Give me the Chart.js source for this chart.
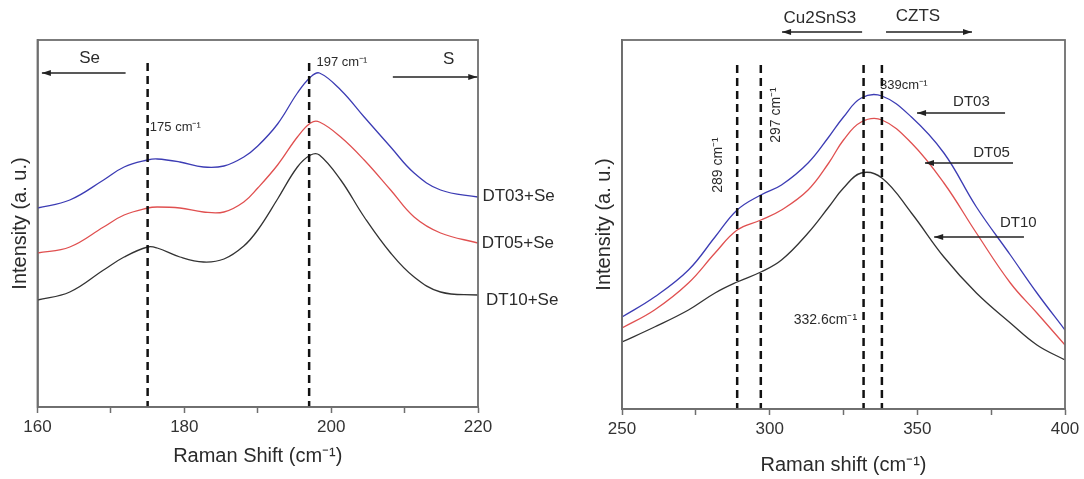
<!DOCTYPE html>
<html>
<head>
<meta charset="utf-8">
<script src="https://cdn.jsdelivr.net/npm/chart.js@4.4.1/dist/chart.umd.min.js"></script>
<style>
  html, body { margin: 0; padding: 0; background: #fff; }
  #wrap { position: relative; width: 1084px; height: 479px; }
  #left { position: absolute; left: 0; top: 0; }
  #right { position: absolute; left: 580px; top: 0; }
</style>
</head>
<body>
<div id="wrap">
  <canvas id="left" width="580" height="479"></canvas>
  <canvas id="right" width="504" height="479"></canvas>
</div>
<script>
// Left panel: Se treated films (Raman shift, cm-1)
const leftShift = [160, 164.4, 169, 171.8, 175, 176.3, 179.4, 182.6, 185.4, 188.1, 190, 192.7, 195.4, 197.2, 198.4, 201.3, 204.5, 208.1, 211.3, 214.9, 220];
const dt03Se = [199, 207, 227, 240, 247, 248, 245, 240, 241, 250, 261, 283, 314, 330, 334, 317, 290, 260, 234, 217, 210];
const dt05Se = [154, 160, 180, 192, 199, 200, 199, 195, 195, 205, 219, 242, 270, 284, 285, 270, 247, 217, 190, 174, 164];
const dt10Se = [107, 115, 137, 150, 160, 159, 150, 145, 148, 161, 177, 208, 240, 252, 252, 227, 190, 154, 130, 115, 112];
const leftPeaks = [175, 197];

// Right panel: as grown films
const rightShift = [250, 261, 272.5, 281.5, 289, 297, 304, 313, 320, 325, 331, 338, 348, 359, 370, 381.5, 390.5, 400];
const dt03 = [92, 112, 139, 172, 199, 214, 224, 246, 272, 292, 311, 313, 292, 256, 202, 154, 116, 79];
const dt05 = [81, 99, 126, 156, 179, 189, 199, 219, 246, 269, 287, 289, 266, 226, 176, 126, 96, 64];
const dt10 = [67, 82, 99, 116, 127, 137, 149, 176, 202, 221, 236, 231, 196, 152, 116, 86, 64, 49];
const rightPeaks = [289, 297, 331.8, 338];

const FONT = '"Liberation Sans", Arial, sans-serif';
const TEXT = '#2b2b2b';
const FRAME = '#6e6e6e';

function pts(xs, ys) {
  return xs.map((x, i) => ({ x: x, y: ys[i] }));
}

function curve(xs, ys, color) {
  return {
    data: pts(xs, ys),
    borderColor: color,
    borderWidth: 1.3,
    pointRadius: 0,
    tension: 0.4
  };
}

// vertical dashed peak markers
function peakLines(peaks, top) {
  return peaks.map(p => ({
    data: [{ x: p, y: top }, { x: p, y: 0 }],
    borderColor: '#111',
    borderWidth: 2.5,
    borderDash: [8, 5],
    pointRadius: 0,
    tension: 0
  }));
}

// frame, arrows and text labels
const marksPlugin = {
  id: 'marks',
  afterDraw(chart, args, opts) {
    const { ctx, chartArea: a, scales } = chart;
    const x = scales.x, y = scales.y;
    ctx.save();
    ctx.strokeStyle = FRAME;
    ctx.lineWidth = 1.8;
    ctx.strokeRect(a.left, a.top, a.right - a.left, a.bottom - a.top);

    ctx.strokeStyle = '#222';
    ctx.fillStyle = '#222';
    ctx.lineWidth = 1.4;
    (opts.arrows || []).forEach(ar => {
      const x0 = x.getPixelForValue(ar.from);
      const x1 = x.getPixelForValue(ar.to);
      const py = y.getPixelForValue(ar.y);
      ctx.beginPath();
      ctx.moveTo(x0, py);
      ctx.lineTo(x1, py);
      ctx.stroke();
      const d = Math.sign(x1 - x0);
      ctx.beginPath();
      ctx.moveTo(x1, py);
      ctx.lineTo(x1 - d * 9, py - 3);
      ctx.lineTo(x1 - d * 9, py + 3);
      ctx.closePath();
      ctx.fill();
    });

    (opts.texts || []).forEach(t => {
      ctx.save();
      ctx.font = (t.size || 14) + 'px ' + FONT;
      ctx.fillStyle = TEXT;
      ctx.textAlign = t.align || 'left';
      ctx.textBaseline = 'middle';
      ctx.translate(x.getPixelForValue(t.x), y.getPixelForValue(t.y));
      if (t.rotate) ctx.rotate(t.rotate * Math.PI / 180);
      ctx.fillText(t.text, 0, 0);
      ctx.restore();
    });
    ctx.restore();
  }
};

function panel(id, cfg) {
  new Chart(document.getElementById(id), {
    type: 'line',
    data: { datasets: cfg.datasets },
    options: {
      responsive: false,
      animation: false,
      layout: { padding: cfg.padding },
      plugins: {
        legend: { display: false },
        tooltip: { enabled: false },
        marks: cfg.marks
      },
      scales: {
        x: {
          type: 'linear',
          min: cfg.xMin,
          max: cfg.xMax,
          afterFit: s => { s.height = cfg.xAxisHeight; },
          ticks: {
            stepSize: cfg.step,
            autoSkip: false,
            maxRotation: 0,
            padding: 4,
            color: '#333',
            font: { family: FONT, size: 17 },
            callback: v => (v % cfg.major === 0 ? v : '')
          },
          grid: { display: true, drawOnChartArea: false, tickLength: 6, color: FRAME, tickWidth: 1.5 },
          border: { display: true, color: FRAME, width: 1.8 },
          title: {
            display: true,
            text: cfg.xTitle,
            color: TEXT,
            font: { family: FONT, size: 20 },
            padding: { top: 0, bottom: cfg.xTitlePad }
          }
        },
        y: {
          min: 0,
          max: cfg.yMax,
          afterFit: s => { s.width = cfg.yAxisWidth; },
          ticks: { display: false },
          grid: { display: false },
          border: { display: true, color: FRAME, width: 1.8 },
          title: {
            display: true,
            text: 'Intensity (a. u.)',
            color: TEXT,
            font: { family: FONT, size: 20 },
            padding: { top: cfg.yTitlePad, bottom: 0 }
          }
        }
      }
    },
    plugins: [marksPlugin]
  });
}

panel('left', {
  xMin: 160, xMax: 220, step: 10, major: 20, yMax: 367,
  padding: { top: 40, right: 102, left: 0, bottom: 0 },
  xAxisHeight: 72, yAxisWidth: 37.5, xTitlePad: 11, yTitlePad: 8,
  xTitle: 'Raman Shift (cm⁻¹)',
  datasets: [
    ...peakLines(leftPeaks, 344),
    curve(leftShift, dt10Se, '#333333'),
    curve(leftShift, dt05Se, '#e05050'),
    curve(leftShift, dt03Se, '#3c3cb4')
  ],
  marks: {
    arrows: [
      { from: 172.0, to: 160.6, y: 334 },
      { from: 208.4, to: 219.9, y: 330 }
    ],
    texts: [
      { text: 'Se', x: 167.1, y: 349, size: 17, align: 'center' },
      { text: '175 cm⁻¹', x: 175.3, y: 280, size: 13 },
      { text: '197 cm⁻¹', x: 198.0, y: 345, size: 13 },
      { text: 'S', x: 216.0, y: 348, size: 17, align: 'center' },
      { text: 'DT03+Se', x: 220.6, y: 211, size: 17 },
      { text: 'DT05+Se', x: 220.5, y: 164, size: 17 },
      { text: 'DT10+Se', x: 221.1, y: 107, size: 17 }
    ]
  }
});

panel('right', {
  xMin: 250, xMax: 400, step: 25, major: 50, yMax: 369,
  padding: { top: 40, right: 19, left: 0, bottom: 0 },
  xAxisHeight: 70, yAxisWidth: 42, xTitlePad: 2, yTitlePad: 12,
  xTitle: 'Raman shift (cm⁻¹)',
  datasets: [
    ...peakLines(rightPeaks, 344),
    curve(rightShift, dt10, '#333333'),
    curve(rightShift, dt05, '#e05050'),
    curve(rightShift, dt03, '#3c3cb4')
  ],
  marks: {
    arrows: [
      { from: 331.3, to: 304.2, y: 377 },
      { from: 339.4, to: 368.5, y: 377 },
      { from: 379.7, to: 349.9, y: 296 },
      { from: 382.4, to: 352.6, y: 246 },
      { from: 386.1, to: 355.7, y: 172 }
    ],
    texts: [
      { text: 'Cu2SnS3', x: 317.0, y: 391, size: 17, align: 'center' },
      { text: 'CZTS', x: 350.2, y: 393, size: 17, align: 'center' },
      { text: '289 cm⁻¹', x: 282.5, y: 244, size: 14, align: 'center', rotate: -90 },
      { text: '297 cm⁻¹', x: 302.2, y: 294, size: 14, align: 'center', rotate: -90 },
      { text: '339cm⁻¹', x: 337.4, y: 324, size: 13 },
      { text: 'DT03', x: 362.1, y: 307, size: 15 },
      { text: 'DT05', x: 368.9, y: 256, size: 15 },
      { text: 'DT10', x: 378.0, y: 186, size: 15 },
      { text: '332.6cm⁻¹', x: 329.6, y: 89, size: 14, align: 'right' }
    ]
  }
});
</script>
</body>
</html>
